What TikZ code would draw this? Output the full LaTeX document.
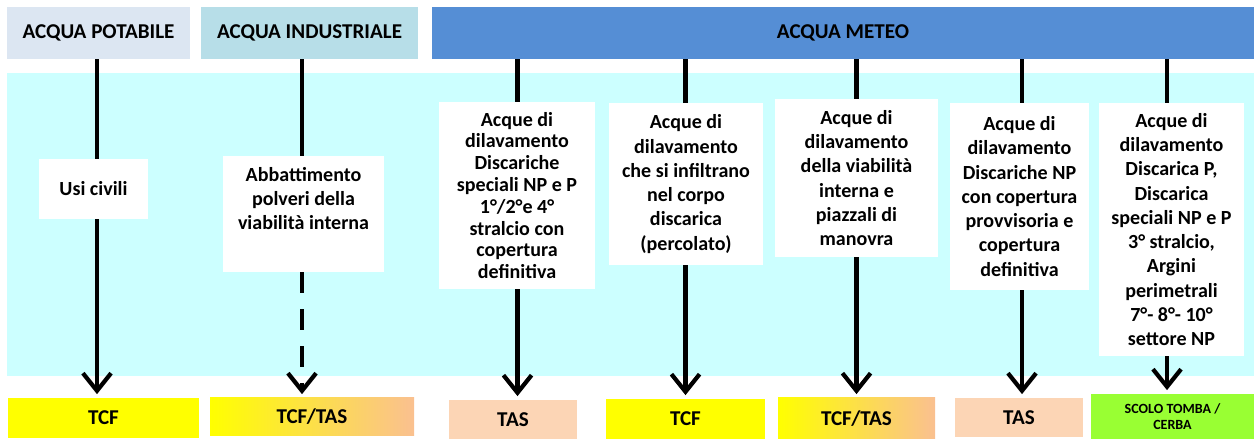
\documentclass[tikz,border=0pt]{standalone}
\usepackage{fontspec}
\setmainfont{Carlito}
\usetikzlibrary{arrows.meta}

\definecolor{potable}{HTML}{DCE6F2}
\definecolor{industriel}{HTML}{B7DEE8}
\definecolor{bleumeteo}{HTML}{558ED5}
\definecolor{ciel}{HTML}{CCFFFF}
\definecolor{jaune}{HTML}{FFFF00}
\definecolor{peche}{HTML}{FCD5B5}
\definecolor{saumon}{HTML}{FAC090}
\definecolor{vert}{HTML}{99FF33}

\begin{document}
\begin{tikzpicture}[
    font=\bfseries,
    % Réglages des boîtes
    titre/.style={inner sep=0pt, minimum height=1.04cm, font=\fontsize{12}{14}\selectfont\bfseries},
    boite/.style={fill=white, inner sep=0pt, align=center, font=\fontsize{11.4}{13.8}\selectfont\bfseries},
    sortie/.style={inner sep=0pt, align=center, font=\fontsize{12}{14}\selectfont\bfseries},
    fleche/.style={line width=2.4pt, -{Straight Barb[length=10pt, width=16pt]}, shorten >=2pt}
]
\useasboundingbox (0,0) rectangle (25.08,8.78);

% Fond
\node[fill=ciel, inner sep=0pt, minimum width=24.94cm, minimum height=6.06cm] (fond) at (12.61,4.29) {};

% Titres
\node[titre, fill=potable, minimum width=3.66cm] (potable) at (1.97,8.12) {ACQUA POTABILE};
\node[titre, fill=industriel, minimum width=4.34cm] (industriel) at (6.19,8.12) {ACQUA INDUSTRIALE};
\node[titre, fill=bleumeteo, minimum width=16.44cm] (meteo) at (16.86,8.12) {ACQUA METEO};

% Colonnes des flèches
\coordinate (c1) at (1.94,0);
\coordinate (c2) at (6.04,0);
\coordinate (c3) at (10.35,0);
\coordinate (c4) at (13.71,0);
\coordinate (c5) at (17.13,0);
\coordinate (c6) at (20.44,0);
\coordinate (c7) at (23.34,0);

% Destinations
\node[sortie, fill=jaune, minimum width=3.82cm, minimum height=0.80cm] (tcf1) at (2.07,0.42) {TCF};
\node[sortie, left color=jaune, right color=saumon, minimum width=4.08cm, minimum height=0.76cm] (mix1) at (6.24,0.44) {TCF/TAS};
\node[sortie, fill=peche, minimum width=2.56cm, minimum height=0.78cm] (tas1) at (10.26,0.39) {TAS};
\node[sortie, fill=jaune, minimum width=3.18cm, minimum height=0.80cm] (tcf2) at (13.71,0.40) {TCF};
\node[sortie, left color=jaune, right color=saumon, minimum width=3.14cm, minimum height=0.82cm] (mix2) at (17.13,0.41) {TCF/TAS};
\node[sortie, fill=peche, minimum width=2.56cm, minimum height=0.78cm] (tas2) at (20.38,0.43) {TAS};
\node[sortie, fill=vert, minimum width=3.26cm, minimum height=0.90cm, font=\fontsize{8}{9.5}\selectfont\bfseries] (scolo) at (23.45,0.45) {SCOLO TOMBA /\\CERBA};

% Flèches
\draw[fleche] (potable.south -| c1) -- (c1 |- tcf1.north);
\draw[fleche] (meteo.south -| c3) -- (c3 |- tas1.north);
\draw[fleche] (meteo.south -| c4) -- (c4 |- tcf2.north);
\draw[fleche] (meteo.south -| c5) -- (c5 |- mix2.north);
\draw[fleche] (meteo.south -| c6) -- (c6 |- tas2.north);
\draw[fleche] (meteo.south -| c7) -- (c7 |- scolo.north);

% Usages
\node[boite, minimum width=2.18cm, minimum height=1.20cm] (usi) at (1.87,5.00) {Usi civili};
\node[boite, minimum width=3.22cm, minimum height=2.32cm] (abb) at (6.07,4.50) {};
\node[boite, fill=none, anchor=north] (abbtxt) at ([yshift=-0.22cm]abb.north) {Abbattimento\\polveri della\\viabilità interna};
\node[boite, minimum width=3.12cm, minimum height=3.74cm, font=\fontsize{11.4}{12.4}\selectfont\bfseries] (dis1) at (10.34,4.87)
    {Acque di\\dilavamento\\Discariche\\speciali NP e P\\1°/2°e 4°\\stralcio con\\copertura\\definitiva};
\node[boite, minimum width=3.08cm, minimum height=3.24cm] (perc) at (13.72,5.10)
    {Acque di\\dilavamento\\che si infiltrano\\nel corpo\\discarica\\(percolato)};
\node[boite, minimum width=3.26cm, minimum height=3.16cm] (viab) at (17.13,5.22)
    {Acque di\\dilavamento\\della viabilità\\interna e\\piazzali di\\manovra};
\node[boite, minimum width=2.78cm, minimum height=3.74cm] (dis2) at (20.39,4.85)
    {Acque di\\dilavamento\\Discariche NP\\con copertura\\provvisoria e\\copertura\\definitiva};
\node[boite, minimum width=2.90cm, minimum height=5.06cm] (dis3) at (23.43,4.19)
    {Acque di\\dilavamento\\Discarica P,\\Discarica\\speciali NP e P\\3° stralcio,\\Argini\\perimetrali\\7°- 8°- 10°\\settore NP};

% Acqua industriale : trait plein puis pointillés
\draw[line width=2.4pt] (industriel.south -| c2) -- (c2 |- abb.north);
\draw[fleche, dash pattern=on 12pt off 9pt] (c2 |- abb.south) -- (c2 |- mix1.north);
\end{tikzpicture}
\end{document}
